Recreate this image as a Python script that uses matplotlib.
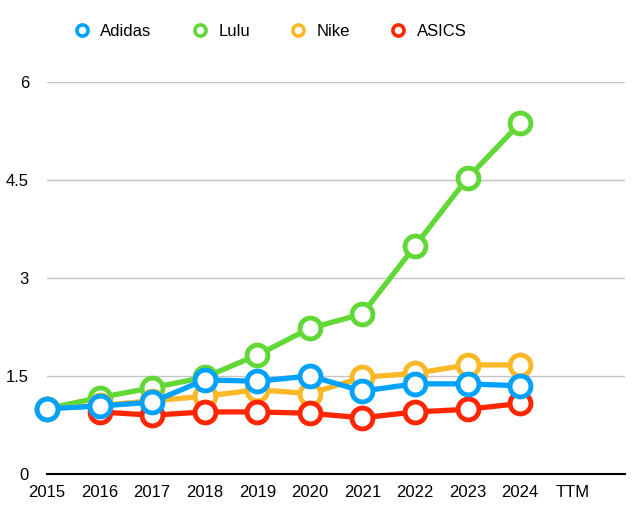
import matplotlib.pyplot as plt
import numpy as np
from matplotlib.lines import Line2D

years = ['2015', '2016', '2017', '2018', '2019', '2020', '2021', '2022', '2023', '2024', 'TTM']
adidas = [1.00, 1.04, 1.10, 1.44, 1.42, 1.50, 1.27, 1.38, 1.38, 1.35]
lulu = [1.00, 1.17, 1.32, 1.48, 1.82, 2.23, 2.45, 3.49, 4.53, 5.37]
nike = [1.00, 1.05, 1.12, 1.19, 1.29, 1.23, 1.48, 1.54, 1.67, 1.67]
asics = [None, 0.95, 0.90, 0.95, 0.95, 0.93, 0.86, 0.95, 0.99, 1.08]
yticks = [0, 1.5, 3, 4.5, 6]

colors = {'Adidas': '#00A2FF', 'Lulu': '#61D836', 'Nike': '#FCB827', 'ASICS': '#FF2600'}
zorders = {'Adidas': 6, 'Lulu': 3, 'Nike': 4, 'ASICS': 5}

plt.rcParams['font.family'] = ['Liberation Sans', 'DejaVu Sans']
fig = plt.figure(figsize=(6.4, 5.19), dpi=100)
ax = fig.add_axes([0.0734, 0.0867, 0.9036, 0.7553])

series = {'Adidas': adidas, 'Lulu': lulu, 'Nike': nike, 'ASICS': asics}
for name, vals in series.items():
    y = np.array([np.nan if v is None else v for v in vals], dtype=float)
    x = np.arange(len(y))
    ax.plot(x, y, color=colors[name], lw=3.8, zorder=zorders[name], clip_on=False)
    ax.plot(x, y, ls='none', marker='o', ms=15, mfc='white', mec=colors[name],
            mew=3.5, zorder=zorders[name], clip_on=False, label=name)

ax.set_xlim(0, 11)
ax.set_ylim(0, 6)
ax.set_xticks(np.arange(len(years)))
ax.set_xticklabels(years)
ax.set_yticks(yticks)
ax.set_yticklabels(['0', '1.5', '3', '4.5', '6'])
ax.grid(axis='y', color='#c4c4c4', lw=1.0)
ax.set_axisbelow(True)
for s in ['top', 'right', 'left']:
    ax.spines[s].set_visible(False)
ax.spines['bottom'].set_color('black')
ax.spines['bottom'].set_linewidth(1.5)
ax.spines['bottom'].set_zorder(2)
ax.tick_params(axis='both', length=0, labelsize=12, colors='black')
ax.tick_params(axis='y', pad=13)
ax.tick_params(axis='x', pad=8)

labels = list(series.keys())
hs = [Line2D([], [], ls='none', marker='o', ms=8, mfc='white', mec=colors[n], mew=2.6) for n in labels]
fig.legend(hs, labels, loc='center left', bbox_to_anchor=(72 / 640, 1 - 31 / 519), ncol=4, frameon=False,
           fontsize=12, handletextpad=0.5, columnspacing=2.3, handlelength=1.2, borderaxespad=0, borderpad=0)

fig.savefig('out.png', dpi=100)
